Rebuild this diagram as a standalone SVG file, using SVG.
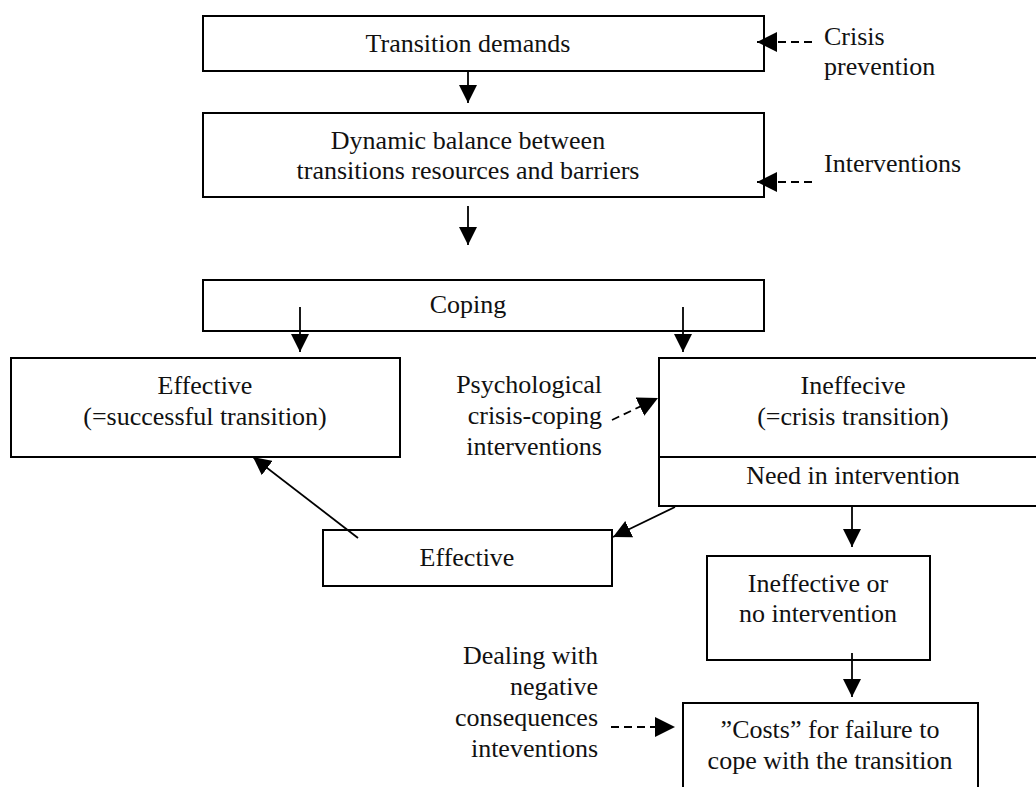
<svg xmlns="http://www.w3.org/2000/svg" width="1036" height="787" viewBox="0 0 1036 787">
<style>
.box{fill:#fff;stroke:#000;stroke-width:2}
.t{font-family:"Liberation Serif","Times New Roman",serif;font-size:26px;fill:#111}
.c{text-anchor:middle}
.r{text-anchor:end}
.ln{fill:none;stroke:#000;stroke-width:1.8}
.sol{marker-end:url(#ah)}
.dsh{stroke-dasharray:8,5;marker-end:url(#ahd)}
</style>
<defs>
<marker id="ah" markerUnits="userSpaceOnUse" markerWidth="18" markerHeight="18" refX="18" refY="9" orient="auto"><path d="M0,0 L18,9 L0,18 z" fill="#000"/></marker>
<marker id="ahd" markerUnits="userSpaceOnUse" markerWidth="20" markerHeight="20" refX="20" refY="10" orient="auto"><path d="M0,0 L20,10 L0,20 z" fill="#000"/></marker>
</defs>
<rect width="1036" height="787" fill="#fff"/>
<g id="transition-demands">
<rect class="box" x="203" y="16" width="561" height="55"/>
<text class="t c" x="468" y="52">Transition demands</text>
</g>
<g id="dynamic-balance">
<rect class="box" x="203" y="113" width="561" height="84"/>
<text class="t c" x="468" y="149">Dynamic balance between</text>
<text class="t c" x="468" y="179">transitions resources and barriers</text>
</g>
<g id="coping">
<rect class="box" x="203" y="280" width="561" height="51"/>
<text class="t c" x="468" y="313">Coping</text>
</g>
<g id="effective-success">
<rect class="box" x="11" y="358" width="389" height="99"/>
<text class="t c" x="205" y="394">Effective</text>
<text class="t c" x="205" y="425">(=successful transition)</text>
</g>
<g id="ineffective-crisis">
<rect class="box" x="659" y="358" width="390" height="148"/>
<line class="box" x1="659" y1="457" x2="1049" y2="457"/>
<text class="t c" x="853" y="394">Ineffecive</text>
<text class="t c" x="853" y="425">(=crisis transition)</text>
<text class="t c" x="853" y="484">Need in intervention</text>
</g>
<g id="effective-mid">
<rect class="box" x="323" y="530" width="289" height="56"/>
<text class="t c" x="467" y="566">Effective</text>
</g>
<g id="ineffective-no">
<rect class="box" x="707" y="556" width="223" height="104"/>
<text class="t c" x="818" y="592">Ineffective or</text>
<text class="t c" x="818" y="622">no intervention</text>
</g>
<g id="costs">
<rect class="box" x="683" y="703" width="295" height="100"/>
<text class="t c" x="830" y="738">”Costs” for failure to</text>
<text class="t c" x="830" y="769">cope with the transition</text>
</g>
<g id="label-crisis-prevention">
<text class="t" x="824" y="45">Crisis</text>
<text class="t" x="824" y="75">prevention</text>
</g>
<g id="label-interventions">
<text class="t" x="824" y="172">Interventions</text>
</g>
<g id="label-psychological">
<text class="t r" x="602" y="393">Psychological</text>
<text class="t r" x="602" y="424">crisis-coping</text>
<text class="t r" x="602" y="455">interventions</text>
</g>
<g id="label-dealing">
<text class="t r" x="598" y="664">Dealing with</text>
<text class="t r" x="598" y="695">negative</text>
<text class="t r" x="598" y="726">consequences</text>
<text class="t r" x="598" y="757">inteventions</text>
</g>
<g id="connectors">
<line class="ln sol" x1="468" y1="71" x2="468" y2="103"/>
<line class="ln sol" x1="468" y1="206" x2="468" y2="245"/>
<line class="ln sol" x1="300" y1="307" x2="300" y2="352"/>
<line class="ln sol" x1="683" y1="307" x2="683" y2="352"/>
<line class="ln sol" x1="675" y1="507" x2="613" y2="537"/>
<line class="ln sol" x1="358" y1="538" x2="253" y2="457"/>
<line class="ln sol" x1="852" y1="506" x2="852" y2="547"/>
<line class="ln sol" x1="852" y1="653" x2="852" y2="697"/>
<line class="ln dsh" x1="812" y1="42" x2="757" y2="42"/>
<line class="ln dsh" x1="812" y1="182" x2="757" y2="182"/>
<line class="ln dsh" x1="612" y1="420" x2="658" y2="398"/>
<line class="ln dsh" x1="611" y1="727" x2="675" y2="727"/>
</g>
</svg>
